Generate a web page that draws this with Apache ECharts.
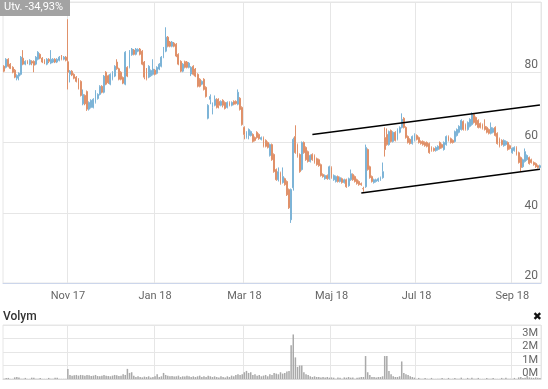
<!DOCTYPE html>
<html>
<head>
<meta charset="utf-8">
<script src="https://cdn.jsdelivr.net/npm/echarts@6/dist/echarts.min.js"></script>
<style>
html,body{margin:0;padding:0;background:#fff;}
#chart{width:548px;height:389px;}
</style>
</head>
<body>
<div id="chart"></div>
<script>
// ---- Data ----
const START_DATE = '2017-09-20';
const TRADING_DAY_COUNT = 253;
const HOLIDAYS = ['2017-12-25','2017-12-26','2018-01-01','2018-03-30','2018-04-02','2018-05-01','2018-05-10','2018-06-06','2018-06-22'];

const tickDates = ['2017-11-01','2018-01-02','2018-03-01','2018-05-02','2018-07-02','2018-09-03'];
const tickLabels = ['Nov 17','Jan 18','Mar 18','Maj 18','Jul 18','Sep 18'];

// [open, close, low, high]
const candles = [
[81.7,80.3,80.0,82.0],[81.4,83.7,81.1,84.0],[83.7,81.7,81.4,84.0],[82.3,81.1,80.9,82.6],[81.4,80.0,79.7,81.7],
[80.6,78.6,78.3,80.9],[78.3,79.1,77.7,79.4],[78.9,79.7,77.7,80.0],[79.4,84.3,79.1,84.6],[84.0,82.3,82.0,86.3],
[82.3,83.1,82.0,83.4],[83.1,82.6,82.3,83.4],[82.3,83.4,82.0,83.7],[83.1,82.6,82.0,83.4],[83.1,82.0,80.0,83.4],
[82.3,84.3,82.0,84.6],[83.7,85.7,83.4,86.0],[85.1,84.0,83.7,85.4],[84.0,82.9,82.6,84.3],[83.4,82.6,82.3,83.7],
[82.3,83.7,82.0,84.0],[83.7,83.1,82.6,84.0],[82.6,83.7,82.3,86.3],[82.9,83.7,82.6,84.0],[83.7,82.9,82.6,84.0],
[82.9,83.7,82.6,84.0],[83.4,84.3,83.1,84.6],[84.6,83.7,83.4,84.9],[83.7,84.3,83.4,84.6],[84.3,83.4,83.1,84.6],
[83.0,80.0,75.1,95.1],[79.4,80.3,77.1,80.6],[80.3,79.2,78.9,80.6],[79.4,78.3,78.0,79.7],[78.6,77.4,77.1,78.9],
[78.0,75.5,75.1,78.3],[77.4,73.4,73.1,77.7],[71.0,73.7,70.6,75.1],[73.4,71.0,70.6,73.7],[74.5,69.5,69.0,74.8],
[69.5,71.4,69.1,71.7],[70.0,72.0,69.7,72.3],[70.0,72.3,69.7,72.6],[71.4,74.6,71.1,74.9],[72.5,73.7,72.2,74.0],
[73.7,76.0,73.4,76.3],[76.0,74.3,74.0,76.3],[74.3,78.9,74.0,79.2],[80.0,76.6,76.3,80.3],[79.0,77.0,76.7,79.3],
[76.6,79.4,76.3,79.7],[78.0,80.0,77.7,80.3],[78.9,81.7,78.6,82.0],[82.9,81.0,80.7,83.7],[81.0,78.0,77.7,81.3],
[80.0,78.0,77.7,80.3],[78.5,76.9,76.6,78.8],[76.6,85.7,76.3,86.0],[81.4,78.9,78.6,81.7],[81.4,86.0,81.1,86.3],
[85.0,86.6,84.7,86.9],[86.3,85.1,84.8,86.6],[85.1,86.6,84.8,86.9],[86.0,86.5,85.7,86.8],[86.6,85.1,84.8,86.9],
[86.0,82.3,82.0,86.3],[82.9,78.6,78.0,83.2],[80.9,78.0,77.7,81.2],[78.6,81.7,78.3,82.0],[79.0,80.5,78.7,80.8],
[79.4,80.9,79.1,83.7],[80.6,79.4,79.1,80.9],[79.7,81.4,79.4,81.7],[80.9,82.3,80.6,82.6],[81.7,84.3,81.4,84.6],
[84.3,86.9,84.0,87.2],[86.0,90.0,85.7,92.8],[90.0,87.4,87.1,90.3],[88.6,87.4,87.1,88.9],[87.4,88.6,87.1,88.9],
[88.3,87.4,87.1,88.6],[88.0,84.6,84.3,88.3],[85.1,82.3,82.0,85.4],[83.1,80.3,80.0,83.4],[80.3,82.3,80.0,82.6],
[83.0,81.4,81.1,83.3],[82.9,81.4,81.1,83.2],[81.4,82.6,81.1,82.9],[79.5,81.4,78.9,81.7],[81.7,79.4,79.1,82.0],
[80.9,78.9,78.6,81.2],[79.4,76.0,75.7,79.7],[78.0,76.0,75.7,78.3],[76.6,77.4,76.3,77.7],[78.0,75.1,74.8,78.3],
[75.7,73.1,72.8,76.0],[66.9,70.6,66.6,70.9],[72.3,73.1,70.9,73.7],[70.0,70.9,68.0,71.4],[70.6,72.3,70.3,73.4],
[72.3,70.0,69.7,72.6],[71.7,70.6,69.7,72.6],[70.6,71.7,70.3,72.0],[72.0,70.6,70.0,72.3],[71.4,69.7,69.4,71.7],
[70.0,71.4,69.7,71.7],[71.4,70.6,70.3,71.7],[70.6,71.4,70.3,71.7],[71.7,70.9,70.6,72.0],[71.7,71.1,70.8,72.0],
[70.9,74.3,70.6,75.1],[72.6,69.4,69.1,72.9],[70.0,65.1,64.8,70.3],[64.3,62.3,60.9,64.6],[61.4,62.9,61.1,63.2],
[62.0,63.7,60.9,64.0],[62.0,63.1,61.7,63.4],[62.3,60.3,60.0,62.6],[61.4,60.6,60.3,61.7],[62.9,61.4,61.1,63.2],
[62.3,61.1,60.8,62.6],[60.9,61.4,60.6,61.7],[61.4,58.9,58.6,61.7],[60.6,58.9,58.6,60.9],[60.0,58.6,58.3,60.3],
[56.3,59.4,56.0,59.7],[59.4,55.1,54.8,59.7],[56.6,51.7,51.4,56.9],[52.3,49.4,49.1,52.6],[49.4,51.7,48.9,52.9],
[51.4,48.3,48.0,51.7],[48.6,50.3,48.3,52.9],[49.7,48.0,47.7,50.0],[48.9,45.1,44.8,49.2],[46.6,41.4,41.1,46.9],
[38.0,46.6,37.1,46.9],[47.1,60.9,46.3,61.4],[61.7,57.1,56.8,64.9],[59.4,56.0,55.7,59.7],[56.6,51.7,51.4,56.9],
[52.3,60.0,52.0,60.3],[60.0,57.1,56.8,60.3],[58.6,55.1,54.8,58.9],[57.4,54.6,54.3,57.7],[54.6,56.3,54.3,56.6],
[56.6,55.1,54.8,56.9],[56.3,54.3,54.0,56.6],[55.4,53.7,53.4,55.7],[55.1,53.4,53.1,55.4],[53.7,50.6,50.3,54.0],
[50.9,50.3,50.0,51.2],[49.7,50.6,49.4,50.9],[50.6,49.7,49.4,50.9],[49.7,53.1,49.4,53.4],[52.9,50.0,49.7,53.2],
[49.4,50.6,49.1,50.9],[48.9,50.3,48.6,50.6],[50.3,48.9,48.6,50.6],[48.9,50.0,48.6,50.3],[49.7,48.6,48.3,50.0],
[48.6,49.4,48.3,49.7],[49.4,47.4,47.1,49.7],[47.7,49.7,47.4,50.0],[49.4,51.1,49.1,52.3],[50.9,49.4,49.1,51.2],
[50.3,48.9,48.6,50.6],[49.4,48.3,48.0,49.7],[48.9,48.0,47.7,49.2],[48.3,48.0,47.7,48.6],[46.9,46.8,46.0,47.4],
[47.4,58.6,47.1,59.4],[58.0,52.3,52.0,58.3],[53.1,50.0,49.7,53.4],[50.3,48.9,48.6,50.6],[48.6,49.4,48.3,49.7],
[48.9,49.4,48.6,49.7],[49.1,49.7,48.8,50.0],[49.4,50.0,49.1,50.3],[50.0,51.7,49.7,54.3],[61.4,58.0,56.0,64.3],
[62.3,59.4,59.1,64.0],[59.4,63.1,59.1,63.4],[63.4,60.3,60.0,63.7],[60.3,62.9,60.0,63.2],[62.9,60.6,60.3,63.2],
[60.9,63.7,60.6,64.0],[62.9,64.3,62.6,64.6],[64.3,66.6,64.0,68.3],[66.9,64.3,64.0,67.2],[64.3,61.4,61.1,64.6],
[61.7,60.0,59.7,62.0],[60.9,59.7,59.4,61.2],[59.7,61.7,59.4,62.0],[60.6,62.3,60.3,62.6],[62.0,60.9,60.6,62.3],
[61.4,60.0,59.7,61.7],[60.3,59.7,59.4,60.6],[60.3,59.4,59.1,60.6],[60.0,59.1,58.8,60.3],[60.0,58.9,58.6,60.3],
[59.7,57.1,56.8,60.0],[58.6,57.7,57.4,58.9],[58.3,57.7,57.4,58.6],[57.7,58.6,57.4,58.9],[58.0,58.9,57.7,59.2],
[60.0,58.3,58.0,60.3],[59.4,58.6,58.3,59.7],[58.0,60.0,57.7,60.3],[59.4,61.7,59.1,62.0],[61.7,60.6,60.3,62.0],
[61.1,60.0,59.7,61.4],[60.6,60.0,59.7,60.9],[60.3,63.1,60.0,63.4],[62.0,63.7,61.7,64.0],[62.9,64.6,62.6,64.9],
[63.7,66.3,63.4,66.6],[66.0,63.7,63.4,66.3],[65.1,63.7,63.4,65.4],[63.7,65.7,63.4,66.0],[64.6,66.6,64.3,66.9],
[65.1,68.0,64.8,68.6],[68.0,65.7,65.4,68.3],[67.1,65.1,64.8,67.4],[66.3,64.3,64.0,66.6],[65.4,64.3,64.0,65.7],
[65.1,64.0,63.7,65.4],[64.6,63.7,63.4,66.6],[64.3,62.9,62.6,64.6],[63.7,62.6,62.3,64.0],[62.6,64.3,62.3,65.7],
[62.9,64.0,62.6,64.3],[64.3,62.0,61.7,64.6],[62.6,59.7,59.4,62.9],[61.1,58.9,58.6,61.4],[60.6,59.4,59.1,60.9],
[59.1,60.6,58.8,60.9],[59.4,60.3,59.1,60.6],[60.0,58.0,57.7,60.3],[59.1,58.3,58.0,59.4],[57.1,58.3,56.8,58.6],
[57.7,58.6,57.4,58.9],[58.6,56.6,56.3,58.9],[57.1,54.3,54.0,57.4],[55.7,52.9,51.7,56.0],[53.1,55.1,52.8,55.4],
[54.6,57.4,54.3,58.3],[55.1,56.3,54.8,56.6],[55.7,54.0,53.7,56.0],[55.1,54.3,54.0,55.4],[54.3,53.7,53.4,54.6],
[54.0,53.1,52.8,54.3],[53.4,52.9,52.6,53.7],[52.9,53.4,52.6,53.7]
];

// volume in millions
const volumes = [
0.01,0.08,0.08,0.01,0.01,0.12,0.15,0.12,0.01,0.01,
0.08,0.01,0.01,0.1,0.1,0.01,0.01,0.08,0.01,0.01,
0.01,0.08,0.01,0.01,0.1,0.1,0.01,0.01,0.01,0.01,
0.75,0.3,0.25,0.28,0.3,0.25,0.3,0.28,0.25,0.3,
0.28,0.22,0.25,0.3,0.22,0.2,0.25,0.3,0.25,0.22,
0.2,0.25,0.3,0.28,0.22,0.25,0.35,0.3,0.75,0.45,
0.5,0.25,0.15,0.2,0.15,0.12,0.18,0.15,0.2,0.12,
0.15,0.2,0.35,0.15,0.2,0.45,0.3,0.25,0.2,0.22,
0.18,0.2,0.25,0.15,0.2,0.18,0.25,0.2,0.15,0.2,
0.15,0.2,0.25,0.15,0.2,0.15,0.25,0.2,0.15,0.2,
0.15,0.12,0.2,0.15,0.12,0.2,0.15,0.25,0.2,0.3,
0.35,0.3,0.35,0.5,0.6,0.45,0.5,0.3,0.35,0.25,
0.3,0.2,0.25,0.3,0.2,0.35,0.3,0.45,0.4,0.35,
0.5,0.4,0.45,0.55,0.6,2.5,3.3,1.6,0.9,1.0,
1.0,0.5,0.35,0.3,0.2,0.15,0.2,0.15,0.15,0.12,
0.15,0.12,0.15,0.1,0.12,0.1,0.01,0.12,0.1,0.01,
0.12,0.1,0.15,0.1,0.12,0.01,0.1,0.12,0.15,0.15,
1.7,0.5,0.3,0.15,0.15,0.12,0.15,0.15,0.2,1.7,
1.7,0.6,0.35,0.2,0.15,0.15,0.2,1.3,0.45,0.35,
0.3,0.2,0.15,0.1,0.01,0.08,0.01,0.01,0.08,0.01,
0.01,0.08,0.01,0.01,0.01,0.01,0.08,0.01,0.01,0.08,
0.01,0.01,0.08,0.01,0.01,0.1,0.01,0.01,0.08,0.01,
0.1,0.01,0.01,0.08,0.01,0.01,0.01,0.08,0.01,0.01,
0.08,0.01,0.01,0.01,0.08,0.01,0.1,0.01,0.01,0.01,
0.08,0.01,0.12,0.15,0.08,0.1,0.25,0.12,0.1,0.08,
0.12,0.1,0.08
];

// trend channel: [candle index, price]
const trendUpper = [[145, 62.3], [252, 70.7]];
const trendLower = [[168, 45.6], [252, 52.4]];

const changeText = 'Utv. -34,93%';
const volumeTitle = 'Volym';

// ---- Build categories (trading days) ----
function pad(n){return n<10?'0'+n:''+n;}
function buildDays(start, count, holidays){
  const out = [];
  const d = new Date(start + 'T00:00:00Z');
  while (out.length < count) {
    const wd = d.getUTCDay();
    const s = d.getUTCFullYear() + '-' + pad(d.getUTCMonth()+1) + '-' + pad(d.getUTCDate());
    if (wd !== 0 && wd !== 6 && holidays.indexOf(s) < 0) out.push(s);
    d.setUTCDate(d.getUTCDate()+1);
  }
  return out;
}
const dates = buildDays(START_DATE, TRADING_DAY_COUNT, HOLIDAYS);
const tickIdx = tickDates.map(t => dates.indexOf(t));
const isTick = (i) => tickIdx.indexOf(i) >= 0;

const FONT = 'Roboto, "Open Sans", sans-serif';
const UP = '#7db4d7', DOWN = '#e0916a';

const chart = echarts.init(document.getElementById('chart'), null, {renderer: 'canvas'});
chart.setOption({
  animation: false,
  backgroundColor: '#ffffff',
  textStyle: {fontFamily: FONT},
  grid: [
    {left: 3, right: 7, top: 2, height: 281, show: true, borderColor: '#e6e6e6', borderWidth: 1},
    {left: 3, right: 7, top: 325, height: 54, show: true, borderColor: '#e6e6e6', borderWidth: 1}
  ],
  xAxis: [
    {
      type: 'category', gridIndex: 0, data: dates, boundaryGap: true,
      axisLine: {show: true, lineStyle: {color: '#ccd6eb'}},
      axisTick: {show: false},
      axisLabel: {
        interval: (i) => isTick(i), margin: 8, color: '#666', fontSize: 11, fontFamily: FONT,
        formatter: (v) => { const k = tickDates.indexOf(v); return k >= 0 ? tickLabels[k] : ''; }
      },
      splitLine: {show: true, interval: (i) => isTick(i), lineStyle: {color: '#e6e6e6', width: 1}}
    },
    {
      type: 'category', gridIndex: 1, data: dates, boundaryGap: true,
      axisLine: {show: true, lineStyle: {color: '#d8d8d8'}},
      axisTick: {show: false},
      axisLabel: {show: false},
      splitLine: {show: true, interval: (i) => isTick(i), lineStyle: {color: '#e6e6e6', width: 1}}
    }
  ],
  yAxis: [
    {
      type: 'value', gridIndex: 0, position: 'right', min: 20, max: 100, interval: 20,
      axisLine: {show: false}, axisTick: {show: false},
      axisLabel: {inside: true, margin: 3, color: '#666', fontSize: 12, fontFamily: FONT,
        verticalAlign: 'bottom', showMaxLabel: false, padding: [0, 0, 1, 0]},
      splitLine: {show: true, lineStyle: {color: '#e6e6e6', width: 1}}
    },
    {
      type: 'value', gridIndex: 1, position: 'right', min: 0, max: 4, interval: 1,
      axisLine: {show: false}, axisTick: {show: false},
      axisLabel: {inside: true, margin: 3, color: '#666', fontSize: 11, fontFamily: FONT,
        verticalAlign: 'bottom', showMaxLabel: false, padding: [0, 0, 0, 0],
        formatter: (v) => v + 'M'},
      splitLine: {show: true, lineStyle: {color: '#e6e6e6', width: 1}}
    }
  ],
  series: [
    {
      type: 'candlestick', xAxisIndex: 0, yAxisIndex: 0, data: candles,
      barWidth: 1.4,
      itemStyle: {color: UP, color0: DOWN, borderColor: UP, borderColor0: DOWN, borderWidth: 1},
      z: 2
    },
    {
      type: 'line', xAxisIndex: 0, yAxisIndex: 0, data: trendUpper, symbol: 'none',
      lineStyle: {color: '#000', width: 1.5}, z: 5, silent: true
    },
    {
      type: 'line', xAxisIndex: 0, yAxisIndex: 0, data: trendLower, symbol: 'none',
      lineStyle: {color: '#000', width: 1.5}, z: 5, silent: true
    },
    {
      type: 'bar', xAxisIndex: 1, yAxisIndex: 1, data: volumes,
      barWidth: 1.5, itemStyle: {color: '#a9a9a9'}
    }
  ],
  graphic: [
    {type: 'rect', left: 0, top: 0, shape: {width: 70, height: 16}, style: {fill: '#a3a3a3'}, z: 10},
    {type: 'text', left: 4, top: 2, style: {text: changeText, fill: '#ffffff', font: '11px ' + FONT}, z: 11},
    {type: 'text', left: 3, top: 311, style: {text: volumeTitle, fill: '#333333', font: '500 12px ' + FONT}, z: 11},
    {type: 'text', right: 6, top: 312, style: {text: '\u2716', fill: '#111111', font: 'bold 11px "DejaVu Sans", sans-serif'}, z: 11}
  ]
});
</script>
</body>
</html>
